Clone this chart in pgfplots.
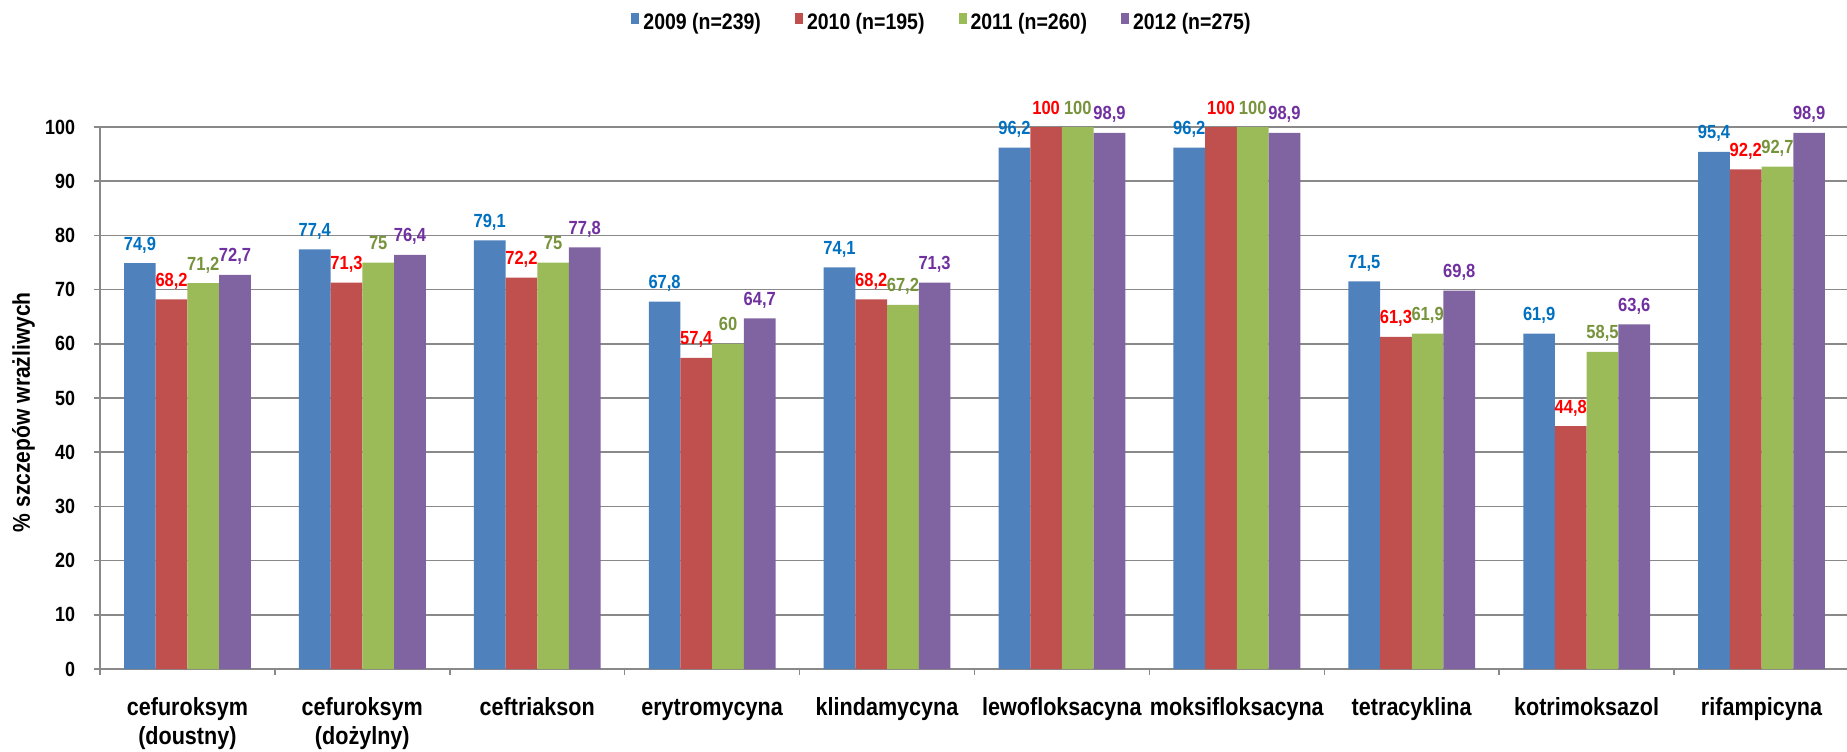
\documentclass[border=0pt]{standalone}
\usepackage{fontspec}
\setmainfont{Liberation Sans}[FakeStretch=0.87]
\usepackage{pgfplots}
\pgfplotsset{compat=1.18}
\definecolor{b1}{HTML}{4F81BD}
\definecolor{b2}{HTML}{C0504D}
\definecolor{b3}{HTML}{9BBB59}
\definecolor{b4}{HTML}{8064A2}
\definecolor{l1}{HTML}{0070C0}
\definecolor{l2}{HTML}{FF0000}
\definecolor{l3}{HTML}{77933C}
\definecolor{l4}{HTML}{7030A0}
\definecolor{gr}{HTML}{898989}
\begin{document}
\begin{tikzpicture}
\path[use as bounding box] (-50pt,-41pt) rectangle (873.5pt,334.5pt);
\begin{axis}[
  at={(0pt,0pt)}, anchor=south west,
  scale only axis, width=874.5pt, height=271pt,
  clip=false,
  xmin=-0.5, xmax=9.5, ymin=0, ymax=100,
  ybar=0pt, bar width=15.85pt,
  axis lines*=left,
  axis line style={draw=gr, line width=0.75pt},
  xtick={-0.5,0.5,...,9.5},
  xticklabels={{\strut cefuroksym\\(doustny)},{\strut cefuroksym\\(dożylny)},{\strut ceftriakson},{\strut erytromycyna},{\strut klindamycyna},{\strut lewofloksacyna},{\strut moksifloksacyna},{\strut tetracyklina},{\strut kotrimoksazol},{\strut rifampicyna},{}},
  xticklabel style={font=\fontsize{12.4}{14.3}\selectfont\bfseries, align=center, anchor=north, inner sep=0pt, xshift=43.7pt, yshift=-10.5pt},
  ytick={0,10,...,100},
  yticklabel style={font=\fontsize{10.3}{12}\selectfont\bfseries, anchor=east, inner sep=0pt, xshift=-9.5pt},
  /pgf/number format/assume math mode=true,
  /pgf/number format/.cd, use comma, fixed, precision=1, /pgfplots/.cd,
  tick align=outside, major tick length=2.75pt,
  tick style={draw=gr, line width=0.75pt},
  ymajorgrids, major grid style={draw=gr, line width=0.75pt},
  every axis y label/.style={at={(axis description cs:-0.0437,0.474)}, rotate=90, anchor=center, font=\fontsize{12.1}{14}\selectfont\bfseries},
  ylabel={\% szczepów wrażliwych},
  nodes near coords,
  every node near coord/.append style={font=\fontsize{9.5}{11}\selectfont\bfseries, anchor=base, inner sep=0pt, yshift=6.5pt},
  legend columns=4,
  legend style={at={(0.482,1.192)}, anchor=center, draw=none, fill=none, font=\fontsize{11.2}{13}\selectfont\bfseries, /tikz/every even column/.append style={column sep=15pt}},
  legend cell align=left,
  legend image code/.code={\fill[#1] (0.5pt,-0.5pt) rectangle (4.5pt,5pt);},
]
\addplot[fill=b1, draw=none, every node near coord/.append style={text=l1}] coordinates {
(0,74.9) (1,77.4) (2,79.1) (3,67.8) (4,74.1) (5,96.2) (6,96.2) (7,71.5) (8,61.9) (9,95.4)};
\addplot[fill=b2, draw=none, every node near coord/.append style={text=l2}] coordinates {
(0,68.2) (1,71.3) (2,72.2) (3,57.4) (4,68.2) (5,100) (6,100) (7,61.3) (8,44.8) (9,92.2)};
\addplot[fill=b3, draw=none, every node near coord/.append style={text=l3}] coordinates {
(0,71.2) (1,75) (2,75) (3,60) (4,67.2) (5,100) (6,100) (7,61.9) (8,58.5) (9,92.7)};
\addplot[fill=b4, draw=none, every node near coord/.append style={text=l4}] coordinates {
(0,72.7) (1,76.4) (2,77.8) (3,64.7) (4,71.3) (5,98.9) (6,98.9) (7,69.8) (8,63.6) (9,98.9)};
\legend{2009 (n=239),2010 (n=195),2011 (n=260),2012 (n=275)}
\end{axis}
\end{tikzpicture}
\end{document}
